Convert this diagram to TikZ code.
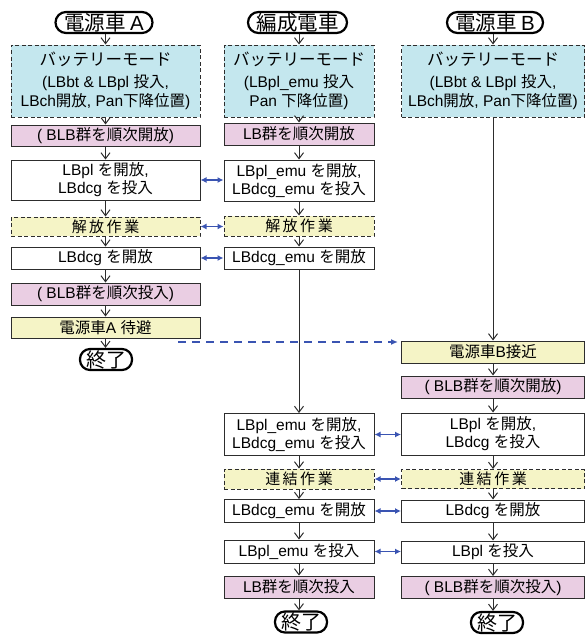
\documentclass[tikz,border=0pt]{standalone}
\usepackage{fontspec}
\setmainfont{Noto Sans CJK JP}
\newfontfamily\lt{Liberation Sans}
\usetikzlibrary{arrows.meta}

\definecolor{cyanfill}{RGB}{196,231,238}
\definecolor{pinkfill}{RGB}{234,206,227}
\definecolor{yelfill}{RGB}{245,244,198}
\definecolor{linkblue}{RGB}{58,84,178}
\definecolor{edge}{RGB}{45,45,45}

\tikzset{
  box/.style={draw=edge, line width=1pt, inner sep=0pt, align=center,
              font=\fontsize{15.5}{18}\selectfont},
  modebox/.style={box, fill=cyanfill, dashed, dash pattern=on 4pt off 2.5pt,
              font=\fontsize{15.5}{19}\selectfont},
  pinkbox/.style={box, fill=pinkfill},
  plainbox/.style={box, fill=white},
  yelbox/.style={box, fill=yelfill},
  workbox/.style={box, fill=yelfill, dashed, dash pattern=on 4pt off 2.5pt,
              font=\fontsize{15}{18}\selectfont},
  hdr/.style={draw=black, line width=2.2pt, rounded corners=10.5pt, inner sep=0pt,
              minimum height=21pt, font=\fontsize{20.5}{22}\selectfont},
  endpill/.style={draw=black, line width=2.2pt, rounded corners=10pt, inner sep=0pt,
              minimum height=21pt, minimum width=52pt, font=\fontsize{20}{21}\selectfont},
  wa/.style={minimum width=189pt},
  we/.style={minimum width=150pt},
  wb/.style={minimum width=183pt},
  flow/.style={-{Straight Barb[length=6pt,width=9pt]}, line width=1pt, draw=edge},
  link/.style={{Latex[length=6pt,width=6pt]}-{Latex[length=6pt,width=6pt]},
              line width=1.5pt, draw=linkblue},
  dlink/.style={-{Latex[length=7pt,width=6pt]}, line width=1.6pt, draw=linkblue,
              dash pattern=on 8pt off 6pt},
}

\begin{document}
\begin{tikzpicture}[x=1pt, y=-1pt]
\useasboundingbox (0,0) rectangle (588,637);

% ---- power car A ----
\node[hdr, minimum width=97pt] (hA) at (104,22.5) {電源車 {\lt A}};
\node[modebox, wa, minimum height=72pt] (A1) at (105.5,81)
  {{\fontsize{16.5}{19}\selectfont バッテリーモード}\\[3pt]
   {\lt (LBbt \& LBpl }投入{\lt ,}\\
   {\lt LBch}開放{\lt , Pan}下降位置{\lt )}};
\node[pinkbox, wa, minimum height=21pt] (A2) at (105.5,135.5) {{\lt ( BLB}群を順次開放{\lt )}};
\node[plainbox, wa, minimum height=40pt] (A3) at (105.5,180) {{\lt LBpl }を開放{\lt ,}\\{\lt LBdcg }を投入};
\node[workbox, wa, minimum height=19pt] (A4) at (105.5,226.5) {解\hspace{2.5pt}放\hspace{2.5pt}作\hspace{2.5pt}業};
\node[plainbox, wa, minimum height=22pt] (A5) at (105.5,258) {{\lt LBdcg }を開放};
\node[pinkbox, wa, minimum height=22pt] (A6) at (105.5,294) {{\lt ( BLB}群を順次投入{\lt )}};
\node[yelbox, wa, minimum height=21pt] (A7) at (105.5,327.5) {電源車{\lt A }待避};
\node[endpill] (endA) at (106,359.5) {終了};

% ---- train set ----
\node[hdr, minimum width=99pt] (hE) at (297.5,22.5) {編成電車};
\node[modebox, we, minimum height=72pt] (E1) at (299,81)
  {{\fontsize{16.5}{19}\selectfont バッテリーモード}\\[3pt]
   {\lt (LBpl\_emu }投入\\
   {\lt Pan }下降位置{\lt )}};
\node[pinkbox, we, minimum height=22pt] (E2) at (299,134) {{\lt LB}群を順次開放};
\node[plainbox, we, minimum height=41pt] (E3) at (299,180.5) {{\lt LBpl\_emu }を開放{\lt ,}\\{\lt LBdcg\_emu }を投入};
\node[workbox, we, minimum height=20pt] (E4) at (299,226) {解\hspace{2.5pt}放\hspace{2.5pt}作\hspace{2.5pt}業};
\node[plainbox, we, minimum height=22pt] (E5) at (299,258) {{\lt LBdcg\_emu }を開放};
\node[plainbox, we, minimum height=42pt] (E6) at (299,434.5) {{\lt LBpl\_emu }を開放{\lt ,}\\{\lt LBdcg\_emu }を投入};
\node[workbox, we, minimum height=20pt] (E7) at (299,479) {連\hspace{2.5pt}結\hspace{2.5pt}作\hspace{2.5pt}業};
\node[plainbox, we, minimum height=23pt] (E8) at (299,511) {{\lt LBdcg\_emu }を開放};
\node[plainbox, we, minimum height=23pt] (E9) at (299,551.5) {{\lt LBpl\_emu }を投入};
\node[pinkbox, we, minimum height=22pt] (E10) at (299,587) {{\lt LB}群を順次投入};
\node[endpill] (endE) at (301,622) {終了};

% ---- power car B ----
\node[hdr, minimum width=96pt] (hB) at (495,22.5) {電源車 {\lt B}};
\node[modebox, wb, minimum height=72pt] (B1) at (493,81)
  {{\fontsize{16.5}{19}\selectfont バッテリーモード}\\[3pt]
   {\lt (LBbt \& LBpl }投入{\lt ,}\\
   {\lt LBch}開放{\lt , Pan}下降位置{\lt )}};
\node[yelbox, wb, minimum height=22pt] (B2) at (493,352) {電源車{\lt B}接近};
\node[pinkbox, wb, minimum height=22pt] (B3) at (493,387) {{\lt ( BLB}群を順次開放{\lt )}};
\node[plainbox, wb, minimum height=42pt] (B4) at (493,434) {{\lt LBpl }を開放{\lt ,}\\{\lt LBdcg }を投入};
\node[workbox, wb, minimum height=19pt] (B5) at (493,479) {連\hspace{2.5pt}結\hspace{2.5pt}作\hspace{2.5pt}業};
\node[plainbox, wb, minimum height=22pt] (B6) at (493,511) {{\lt LBdcg }を開放};
\node[plainbox, wb, minimum height=22pt] (B7) at (493,552) {{\lt LBpl }を投入};
\node[pinkbox, wb, minimum height=22pt] (B8) at (493,587.5) {{\lt ( BLB}群を順次投入{\lt )}};
\node[endpill] (endB) at (497,622.5) {終了};

% ---- sequence arrows within each column ----
\draw[flow] (hA.south -| A1.north) -- (A1.north);
\foreach \a/\b in {A1/A2,A2/A3,A3/A4,A4/A5,A5/A6,A6/A7,A7/endA,
                   E1/E2,E2/E3,E3/E4,E4/E5,E5/E6,E6/E7,E7/E8,E8/E9,E9/E10,E10/endE,
                   B1/B2,B2/B3,B3/B4,B4/B5,B5/B6,B6/B7,B7/B8,B8/endB}
  \draw[flow] (\a.south) -- (\a.south |- \b.north);
\draw[flow] (hE.south -| E1.north) -- (E1.north);
\draw[flow] (hB.south -| B1.north) -- (B1.north);

% ---- coordination between vehicles ----
\foreach \a/\b in {A3/E3,A4/E4,A5/E5,E6/B4,E7/B5,E8/B6,E9/B7}
  \draw[link] (\a.east) -- (\a.east -| \b.west);

\coordinate (dA) at (178,342);
\draw[dlink, shorten >=3pt] (dA) -- (dA -| B2.west);
\end{tikzpicture}
\end{document}
